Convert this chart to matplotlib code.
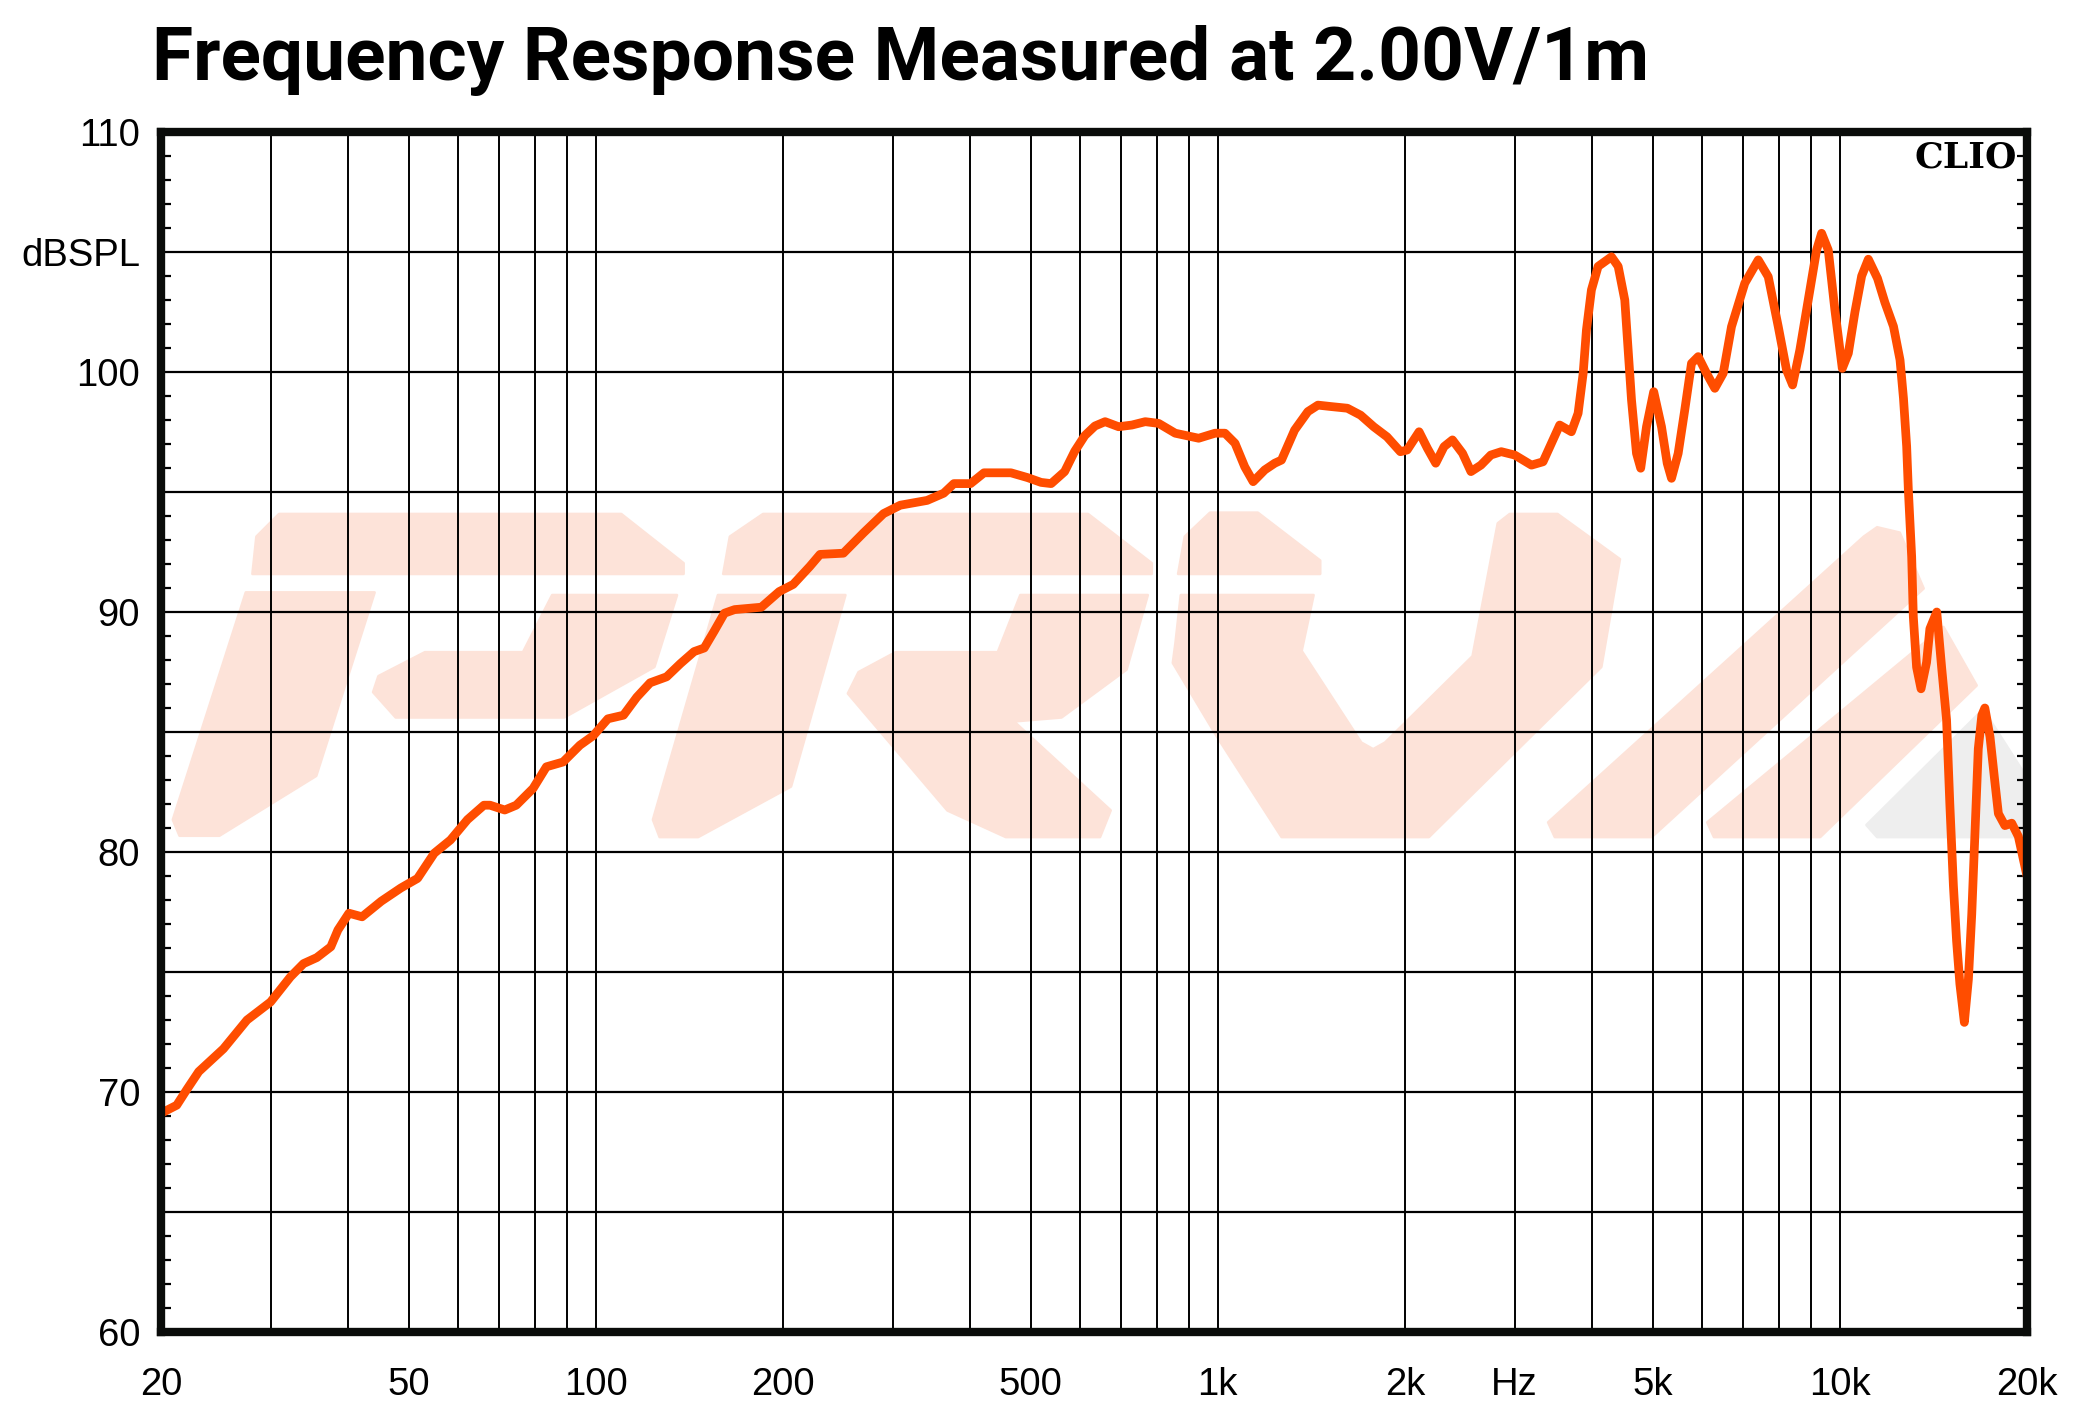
import matplotlib
matplotlib.use("Agg")
import matplotlib.pyplot as plt
from matplotlib.patches import Polygon
from matplotlib.ticker import FixedLocator, NullLocator

# ---------------- data ----------------
freq_hz = [20.0, 20.3, 21.2, 22.0, 23.0, 25.2, 27.5, 30.0, 32.3, 33.9, 35.6, 37.5, 38.5, 40.1,
           42.1, 45.2, 48.6, 51.7, 55.0, 58.4, 62.2, 66.1, 67.6, 71.4, 74.5, 79.3, 83.3, 88.6,
           94.3, 99.1, 104.6, 110.8, 116.4, 122.3, 130.0, 136.8, 143.9, 149.4, 155.0, 161.0,
           167.2, 184.6, 197.2, 207.7, 220.9, 229.4, 250.1, 269.5, 290.2, 308.7, 341.0, 362.6,
           376.5, 400.5, 420.9, 465.0, 494.6, 519.9, 539.7, 567.3, 588.9, 611.3, 634.6, 659.0,
           692.6, 727.7, 764.6, 803.3, 854.3, 931.8, 990.0, 1027, 1066, 1105, 1140, 1190, 1235,
           1266, 1329, 1396, 1449, 1521, 1616, 1697, 1781, 1871, 1966, 2016, 2107, 2173, 2241,
           2311, 2384, 2475, 2553, 2649, 2748, 2856, 3002, 3194, 3334, 3439, 3546, 3703, 3796,
           3868, 3915, 3988, 4088, 4295, 4403, 4512, 4569, 4626, 4712, 4786, 4890, 5022, 5169,
           5279, 5364, 5498, 5634, 5776, 5921, 6106, 6297, 6496, 6698, 7036, 7395, 7674, 7964,
           8212, 8398, 8627, 8899, 9178, 9350, 9584, 9822, 10094, 10322, 10578, 10844, 11116,
           11500, 11818, 12200, 12500, 12660, 12810, 12890, 13050, 13130, 13290, 13510, 13790,
           13960, 14320, 14580, 14850, 15030, 15230, 15410, 15600, 15860, 16100, 16300, 16500,
           16700, 16920, 17110, 17440, 17760, 17990, 18430, 18900, 19370, 20000]
spl_db = [69.1, 69.2, 69.45, 70.1, 70.85, 71.8, 73.0, 73.75, 74.8, 75.35, 75.6, 76.05, 76.75, 77.45,
          77.3, 77.95, 78.5, 78.9, 79.95, 80.5, 81.35, 81.95, 81.95, 81.75, 81.95, 82.65, 83.55, 83.75,
          84.45, 84.85, 85.55, 85.7, 86.45, 87.05, 87.3, 87.85, 88.35, 88.5, 89.2, 89.95,
          90.1, 90.2, 90.85, 91.15, 91.9, 92.4, 92.45, 93.3, 94.1, 94.45, 94.65, 94.95,
          95.35, 95.35, 95.8, 95.8, 95.6, 95.4, 95.35, 95.85, 96.7, 97.35, 97.75, 97.93,
          97.72, 97.79, 97.93, 97.86, 97.45, 97.24, 97.45, 97.45, 97.03, 96.05, 95.43, 95.92, 96.2,
          96.33, 97.58, 98.35, 98.62, 98.56, 98.49, 98.2, 97.72, 97.3, 96.68, 96.75, 97.51, 96.82, 96.2,
          96.89, 97.17, 96.61, 95.85, 96.12, 96.54, 96.68, 96.54, 96.12, 96.26, 97.03, 97.79, 97.51, 98.28,
          99.95, 101.75, 103.42, 104.4, 104.8, 104.4, 103.0, 100.9, 98.83, 96.61, 95.99, 97.72, 99.18, 97.72,
          96.2, 95.57, 96.61, 98.42, 100.36, 100.64, 99.95, 99.32, 99.95, 101.89, 103.7, 104.67, 103.97, 101.89,
          100.08, 99.46, 100.92, 103.0, 105.08, 105.78, 105.08, 102.58, 100.15, 100.78, 102.5, 104.0, 104.7,
          103.9, 102.9, 101.9, 100.5, 98.9, 96.9, 95.1, 92.3, 89.8, 87.7, 86.8, 87.9,
          89.3, 90.0, 87.7, 85.5, 82.0, 78.6, 76.3, 74.5, 72.9, 74.7, 77.4, 80.9,
          84.3, 85.7, 86.0, 84.8, 82.9, 81.6, 81.1, 81.2, 80.65, 79.0]

y_major = [60, 65, 70, 75, 80, 85, 90, 95, 100, 105, 110]
y_labels = ['60', '', '70', '', '80', '', '90', '', '100', 'dBSPL', '110']
y_minor = [v for v in range(61, 110) if v % 5 != 0]
x_grid = [20, 30, 40, 50, 60, 70, 80, 90, 100, 200, 300, 400, 500, 600, 700, 800, 900,
          1000, 2000, 3000, 4000, 5000, 6000, 7000, 8000, 9000, 10000, 20000]
x_label_map = {20: '20', 50: '50', 100: '100', 200: '200', 500: '500', 1000: '1k',
               2000: '2k', 3000: 'Hz', 5000: '5k', 10000: '10k', 20000: '20k'}
title = 'Frequency Response Measured at 2.00V/1m'

# ---------------- watermark (decoration, in reference pixel coords) ----------------
WM_ORANGE = '#FDE3D9'
WM_GREY = '#EEEEEE'
wm_shapes = [
    ([(190, 433), (193, 405), (210, 388), (468, 388), (515, 425), (515, 433)], WM_ORANGE),
    ([(185, 447), (282, 447), (238, 585), (165, 630), (135, 630), (130, 618)], WM_ORANGE),
    ([(320, 492), (394, 492), (416, 449), (510, 449), (493, 503), (425, 541), (298, 541),
      (281, 522), (285, 510)], WM_ORANGE),
    ([(545, 433), (550, 405), (575, 388), (820, 388), (868, 425), (868, 433)], WM_ORANGE),
    ([(541, 449), (637, 449), (596, 593), (526, 631), (497, 631), (492, 618)], WM_ORANGE),
    ([(647, 507), (675, 492), (752, 492), (769, 449), (865, 449), (849, 505), (800, 541),
      (764, 544), (837, 611), (829, 631), (758, 631), (714, 611), (639, 523)], WM_ORANGE),
    ([(888, 433), (893, 405), (912, 387), (948, 387), (995, 423), (995, 433)], WM_ORANGE),
    ([(890, 449), (990, 449), (981, 491), (1026, 560), (1035, 565), (1044, 560), (1110, 495),
      (1129, 395), (1138, 388), (1174, 388), (1221, 422), (1207, 503), (1080, 628),
      (1077, 631), (966, 631), (917, 555), (884, 500), (886, 485)], WM_ORANGE),
    ([(1167, 620), (1172, 631), (1245, 631), (1450, 444), (1432, 402), (1415, 398), (1405, 405)], WM_ORANGE),
    ([(1287, 620), (1292, 631), (1372, 631), (1490, 517), (1465, 473)], WM_ORANGE),
    ([(1407, 622), (1495, 535), (1527, 585), (1527, 631), (1415, 631)], WM_GREY),
]

# ---------------- figure ----------------
W, H = 2080, 1416
fig = plt.figure(figsize=(W / 100, H / 100), dpi=100)
L, R, T, B = 161, 2027, 132, 1332
ax = fig.add_axes([L / W, 1 - B / H, (R - L) / W, (B - T) / H])

ax.set_xscale('log')
ax.set_xlim(20, 20000)
ax.set_ylim(60, 110)

# watermark
ref_l, ref_r, ref_t, ref_b = 121.0, 1528.0, 100.5, 1003.5
for pts, col in wm_shapes:
    apts = [((px - ref_l) / (ref_r - ref_l), (ref_b - py) / (ref_b - ref_t)) for px, py in pts]
    ax.add_patch(Polygon(apts, closed=True, transform=ax.transAxes, facecolor=col,
                         edgecolor=col, lw=2, joinstyle='round', zorder=0))

# grid & ticks
ax.xaxis.set_major_locator(FixedLocator(x_grid))
ax.xaxis.set_minor_locator(NullLocator())
ax.set_xticks(x_grid)
ax.set_xticklabels([x_label_map.get(v, '') for v in x_grid])
ax.set_yticks(y_major)
ax.set_yticklabels(y_labels)
ax.yaxis.set_minor_locator(FixedLocator(y_minor))
ax.grid(True, which='major', axis='x', color='black', lw=1.4, zorder=1)
ax.grid(True, which='major', axis='y', color='black', lw=1.6, zorder=1)
ax.set_axisbelow(True)

lab_font = ['Liberation Sans', 'DejaVu Sans']
ax.tick_params(axis='x', which='major', length=0, pad=25, labelsize=27.5)
ax.tick_params(axis='y', which='major', length=0, pad=15, labelsize=27.5)
ax.tick_params(axis='y', which='minor', direction='in', length=7.5, width=1.6,
               left=True, right=True, color='black')
for lab in ax.get_xticklabels() + ax.get_yticklabels():
    lab.set_fontfamily(lab_font)

for sp in ax.spines.values():
    sp.set_linewidth(6)
    sp.set_color('#0a0c0a')
    sp.set_zorder(6)

# curve
ax.plot(freq_hz, spl_db, color='#FF4D00', lw=6.3, solid_joinstyle='round',
        solid_capstyle='round', zorder=5)

# CLIO mark
ax.text(0.9946, 0.993, 'CLIO', transform=ax.transAxes, ha='right', va='top',
        fontfamily='DejaVu Serif', fontweight='bold', fontsize=26, color='black', zorder=7)

# title
fig.text(152 / W, 1 - 80 / H, title, ha='left', va='baseline', fontsize=54,
         fontweight='bold', fontfamily=['Roboto', 'DejaVu Sans'], color='black')

fig.savefig('out.png', dpi=100)
